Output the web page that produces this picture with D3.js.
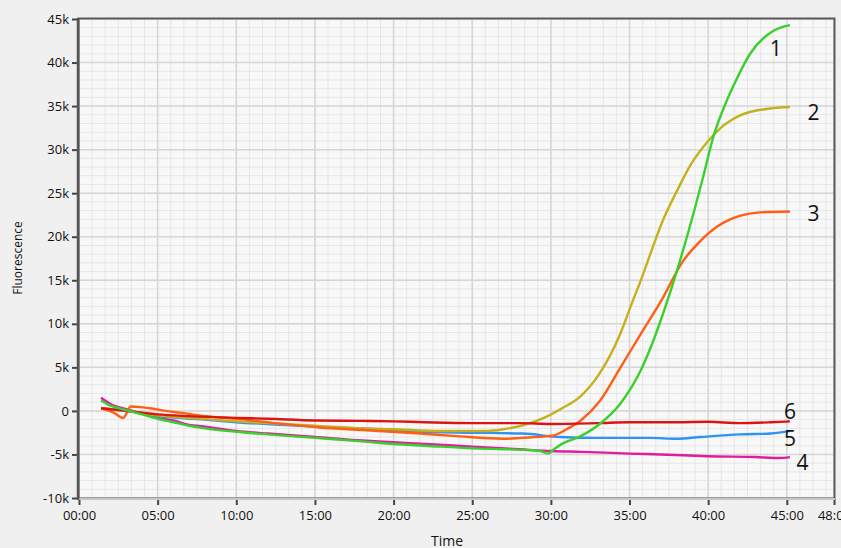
<!DOCTYPE html>
<meta charset="utf-8">
<style>
  body { margin: 0; background: #f0f0f0; }
  .tick text { font-family: "Open Sans", sans-serif; font-size: 13px; fill: #111; }
  .curve { fill: none; stroke-width: 2.4; stroke-linejoin: round; }
  .num { font-family: "Open Sans", sans-serif; font-size: 21px; fill: #111; }
</style>
<svg width="841" height="548"></svg>
<script src="https://d3js.org/d3.v7.min.js"></script>
<script>
// minutes, fluorescence
var curve1 = [[1.4,1200],[2,600],[3,100],[4,-400],[5,-900],[6,-1300],[7,-1700],[8,-2000],[10,-2400],[12,-2700],[15,-3100],[18,-3500],[20,-3800],[22,-4000],[25,-4300],[27,-4400],[28.5,-4500],[29.3,-4600],[29.8,-4900],[30.2,-4400],[30.6,-3900],[31.9,-2900],[33.1,-1500],[34.4,800],[35.7,4600],[36.5,8000],[37.4,12600],[38.2,17200],[39.1,22900],[39.7,27000],[40.3,31300],[41.2,35700],[41.6,37300],[42.7,41100],[44.1,43600],[45.2,44300]];
var curve2 = [[1.4,300],[3,0],[5,-500],[7,-800],[10,-1200],[13,-1500],[15,-1700],[18,-2000],[20,-2100],[23,-2300],[26,-2300],[27,-2100],[28.1,-1700],[29,-1200],[29.8,-600],[30.6,200],[31.9,1700],[33.1,4300],[34.4,8800],[35.2,12600],[35.7,14900],[36.1,16900],[37.2,22200],[38.0,25200],[38.9,28300],[40.0,31000],[40.8,32500],[42.0,33900],[43.8,34700],[45.2,34900]];
var curve3 = [[1.4,300],[2.2,-200],[2.8,-800],[3.3,500],[4.5,300],[5.5,0],[6.4,-200],[8,-600],[10,-900],[13,-1500],[15.3,-1900],[18,-2200],[21.7,-2600],[24,-2900],[27,-3200],[28.1,-3100],[29.8,-2900],[30.2,-2800],[31.0,-2100],[31.9,-1100],[33.1,1100],[34.4,4900],[35.7,8800],[37.0,12600],[38.4,17200],[39.5,19500],[40.6,21200],[41.4,22000],[42.0,22400],[43.3,22800],[45.2,22900]];
var curve4 = [[1.4,1500],[2,800],[3,200],[4,-300],[5,-800],[6,-1100],[7,-1600],[8,-1800],[10,-2300],[12,-2600],[15,-3000],[18,-3400],[20,-3600],[22,-3800],[25,-4100],[28,-4400],[30,-4600],[32,-4700],[35,-4900],[37,-5000],[40,-5200],[43,-5300],[44.5,-5400],[45.2,-5300]];
var curve5 = [[1.4,300],[3,0],[5,-600],[8,-1000],[10,-1300],[15,-1800],[20,-2200],[21.7,-2400],[25,-2500],[28.2,-2600],[30.6,-3000],[33,-3100],[36.3,-3100],[38,-3200],[39.5,-3000],[42,-2700],[44,-2600],[45.2,-2300]];
var curve6 = [[1.4,300],[3,0],[5,-400],[7,-600],[10,-800],[12,-900],[15,-1100],[18,-1150],[20,-1200],[22,-1300],[25,-1400],[28,-1400],[30,-1500],[33,-1400],[35,-1300],[38,-1300],[40,-1250],[42,-1400],[44,-1300],[45.2,-1200]];

var xTicks = [0,5,10,15,20,25,30,35,40,45,48];
var yTicks = [-10000,-5000,0,5000,10000,15000,20000,25000,30000,35000,40000,45000];

// label "n" : [minute, value]
var labelNames = ["1","2","3","4","5","6"];
var labelPos = [[44.3,41700],[46.7,34300],[46.7,22700],[46.0,-5900],[45.2,-3100],[45.2,-50]];

var svg = d3.select("svg");
var x = d3.scaleLinear().domain([0,48]).range([79,834]);
var y = d3.scaleLinear().domain([-10000,45000]).range([498,19]);

svg.append("rect").attr("x",79).attr("y",19).attr("width",755).attr("height",479).attr("fill","#f8f8f8");

// minor grid
var g = svg.append("g");
g.selectAll(".vm").data(d3.range(0,48,5/6)).enter().append("line")
  .attr("x1",x).attr("x2",x).attr("y1",19).attr("y2",498)
  .attr("stroke","#e6e6e6").attr("stroke-width",1);
g.selectAll(".hm").data(d3.range(-10000,45000,1000)).enter().append("line")
  .attr("y1",y).attr("y2",y).attr("x1",79).attr("x2",834)
  .attr("stroke","#e6e6e6").attr("stroke-width",1);
// major grid
g.selectAll(".vM").data(xTicks).enter().append("line")
  .attr("x1",x).attr("x2",x).attr("y1",19).attr("y2",498)
  .attr("stroke","#d6d6d6").attr("stroke-width",1.5);
g.selectAll(".hM").data(yTicks).enter().append("line")
  .attr("y1",y).attr("y2",y).attr("x1",79).attr("x2",834)
  .attr("stroke","#d6d6d6").attr("stroke-width",1.5);

var fmtT = function(d) { return (d < 10 ? "0" : "") + d + ":00"; };
var fmtV = function(d) { return d === 0 ? "0" : (d/1000) + "k"; };

svg.append("g").attr("transform","translate(0,499)")
  .call(d3.axisBottom(x).tickValues(xTicks).tickFormat(fmtT).tickSize(6).tickPadding(6))
  .call(function(a) { a.select(".domain").remove(); a.selectAll("line").attr("stroke","#444").attr("stroke-width",2); });

svg.append("g").attr("transform","translate(78,0)")
  .call(d3.axisLeft(y).tickValues(yTicks).tickFormat(fmtV).tickSize(6).tickPadding(3))
  .call(function(a) { a.select(".domain").remove(); a.selectAll("line").attr("stroke","#444").attr("stroke-width",2); })
  .selectAll("text").attr("font-size","14px");

// curves
var line = d3.line().x(function(d){ return x(d[0]); }).y(function(d){ return y(d[1]); }).curve(d3.curveMonotoneX);
var curves = [
  {d: curve4, c: "#e41ba0"},
  {d: curve5, c: "#2f93f2"},
  {d: curve2, c: "#c4b11c"},
  {d: curve3, c: "#ff5e14"},
  {d: curve6, c: "#dc1414"},
  {d: curve1, c: "#38d02c"}
];
svg.selectAll(".curve").data(curves).enter().append("path")
  .attr("class","curve").attr("stroke",function(d){ return d.c; })
  .attr("d",function(d){ return line(d.d); });

// frame
svg.append("rect").attr("x",78.5).attr("y",18.5).attr("width",756).attr("height",480)
  .attr("fill","none").attr("stroke","#5a5a5a").attr("stroke-width",2);
svg.append("line").attr("x1",78).attr("x2",835).attr("y1",499).attr("y2",499).attr("stroke","#c8c8c8").attr("stroke-width",2);
svg.append("line").attr("x1",78).attr("x2",78).attr("y1",18).attr("y2",500).attr("stroke","#555").attr("stroke-width",2.5);

svg.selectAll(".num").data(labelNames).enter().append("text")
  .attr("class","num")
  .attr("x",function(d,i){ return x(labelPos[i][0]); })
  .attr("y",function(d,i){ return y(labelPos[i][1]); })
  .attr("text-anchor","middle").attr("dominant-baseline","central")
  .text(function(d){ return d; });

svg.append("text").attr("transform","translate(22,258) rotate(-90)")
  .attr("text-anchor","middle").attr("font-family","Open Sans, sans-serif").attr("font-size","12px").attr("fill","#111")
  .text("Fluorescence");
svg.append("text").attr("x",447).attr("y",546)
  .attr("text-anchor","middle").attr("font-family","Open Sans, sans-serif").attr("font-size","14px").attr("fill","#111")
  .text("Time");
</script>
